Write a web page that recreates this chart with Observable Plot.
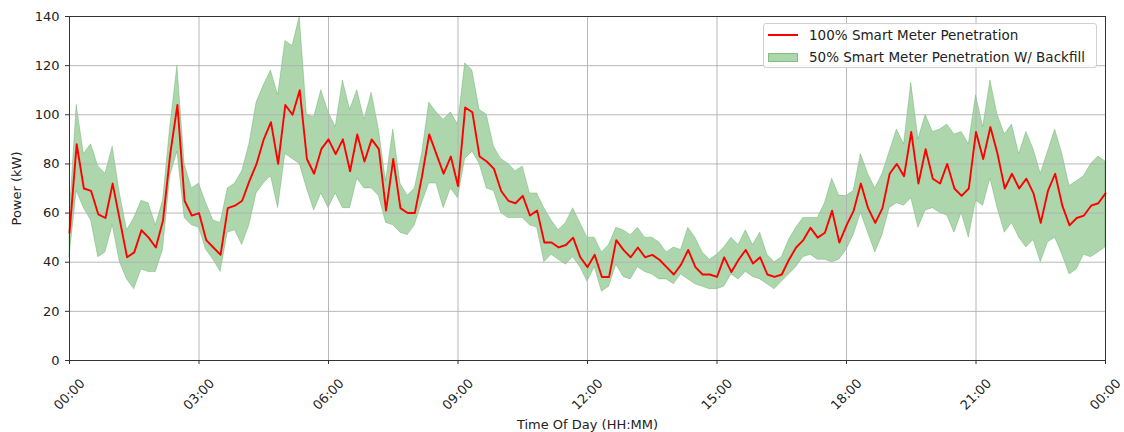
<!DOCTYPE html>
<html>
<head>
<meta charset="utf-8">
<script src="https://cdn.jsdelivr.net/npm/d3@7"></script>
<script src="https://cdn.jsdelivr.net/npm/@observablehq/plot@0.6"></script>
<style>
  html, body { margin: 0; padding: 0; background: #fff; }
  #wrap { position: relative; width: 1124px; height: 432px; font-family: "DejaVu Sans", sans-serif; }
  #legend {
    position: absolute; left: 763px; top: 23px; width: 334px; height: 45px;
    background: rgba(255,255,255,0.85); border: 1px solid #d0d0d0; border-radius: 3px;
    font-size: 13.5px; color: #222; box-sizing: border-box;
  }
  .row { position: absolute; left: 0; height: 20px; display: flex; align-items: center; }
  .sw { width: 30px; margin-left: 4px; margin-right: 11px; }
</style>
</head>
<body>
<div id="wrap">
  <div id="chart"></div>
  <div id="legend">
    <div class="row" style="top:1px"><div class="sw" style="height:2px;background:#ff0000"></div><span>100% Smart Meter Penetration</span></div>
    <div class="row" style="top:23px"><div class="sw" style="height:9px;background:rgba(0,128,0,0.32);border:1px solid rgba(0,128,0,0.25);box-sizing:border-box"></div><span>50% Smart Meter Penetration W/ Backfill</span></div>
  </div>
</div>
<script>
// time of day in minutes (10-minute resolution)
const minutes = [
  0,10,20,30,40,50,60,70,80,90,100,110,120,130,140,150,160,170,180,
  190,200,210,220,230,240,250,260,270,280,290,300,310,320,330,340,350,360,
  370,380,390,400,410,420,430,440,450,460,470,480,490,500,510,520,530,540,
  550,560,570,580,590,600,610,620,630,640,650,660,670,680,690,700,710,720,
  730,740,750,760,770,780,790,800,810,820,830,840,850,860,870,880,890,900,
  910,920,930,940,950,960,970,980,990,1000,1010,1020,1030,1040,1050,1060,1070,1080,
  1090,1100,1110,1120,1130,1140,1150,1160,1170,1180,1190,1200,1210,1220,1230,1240,1250,1260,
  1270,1280,1290,1300,1310,1320,1330,1340,1350,1360,1370,1380,1390,1400,1410,1420,1430,1440
];
// 100% smart meter penetration (kW)
const fullPenetration = [
  52,88,70,69,59.5,58,72,57,42,44,53,50,46,57,84,104,65,59,60,
  49,46,43,62,63,65,73,80,90,97,80,104,100,110,82,76,86,90,
  84,90,77,92,81,90,86,61,82,62,60,60,75,92,84,76,83,71,
  103,101,83,81,78,69,65,64,67,59,61,48,48,46,47,50,42,38,
  43,34,34,49,45,42,46,42,43,41,38,35,39,45,38,35,35,34,
  42,36,41,45,39.5,42,35,34,35,41,46,49,54,50,52,61,48,55,
  61,72,62,56,62,76,80,75,93,72,86,74,72,80,70,67,70,93,
  82,95,84,70,76,70,74,68,56,69,76,63,55,58,59,63,64,68
];
// 50% penetration w/ backfill: upper bound (kW)
const backfillHigh = [
  58,104,84,88,79,76,87,68,53,58,65,64,55,65,95,120,80,70,72,
  64,57,56,70,72,77,88,105,112,118,108,130,128,140,100,99,110,101,
  95,114,102,110,98,109,94,73,94,72,67,70,84,105,101,98,101,96,
  121,118,102,100,87,82,80,77,79,68,68,62,57,53,56,62,56,50,
  50,44,47,54,53,51,54,50,50,48,44,46,45,54,50,44,41,43,
  46,50,47,53,47,52,43,40,42,49,54,58,58,58,64,74,67,67,
  69,84,76,70,76,85,94,88,113,90,100,93,94,96,92,93,88,108,
  95,114,100,92,96,84,93,86,76,85,94,84,71,73,75,80,83,81
];
// 50% penetration w/ backfill: lower bound (kW)
const backfillLow = [
  42,69,62,57,42,44,55,40,33,29,37,36,36,45,75,85,58,55,54,
  45,41,36,52,53,47,55,68,72,75,62,84,82,80,70,61,68,62,
  68,62,62,74,70,70,67,56,55,52,51,55,64,72,72,62,70,66,
  82,85,80,70,69,60,58,58,58,55,54,40,43,41,39,42,38,32,
  38,28,30,39,34,33,38,36,35,33,33,31,35,33,31,30,29,29,
  30,35,33,36,34,33,31,29,32,35,38,42,43,41,41,40,41,45,
  51,60,52,44,51,62,64,63,66,54,61,62,60,59,52,60,50,65,
  63,74,62,52,56,50,46,49,40,48,50,43,35,37,43,42,44,46
];
const xTicks = [0, 3, 6, 9, 12, 15, 18, 21, 24];
const xTickLabels = ["00:00","03:00","06:00","09:00","12:00","15:00","18:00","21:00","00:00"];
const yTicks = [0, 20, 40, 60, 80, 100, 120, 140];

const data = minutes.map((m, i) => ({
  t: m / 60, red: fullPenetration[i], low: backfillLow[i], high: backfillHigh[i]
}));
const fmtX = d => xTickLabels[xTicks.indexOf(d)];

const chart = Plot.plot({
  width: 1124,
  height: 432,
  marginLeft: 69,
  marginRight: 19,
  marginTop: 16,
  marginBottom: 72,
  style: { fontFamily: "DejaVu Sans", fontSize: "13px", color: "#222", background: "transparent" },
  x: { domain: [0, 24] },
  y: { domain: [0, 140] },
  marks: [
    Plot.areaY(data, { x: "t", y1: "low", y2: "high", fill: "green", fillOpacity: 0.32, stroke: "green", strokeOpacity: 0.22, strokeWidth: 1 }),
    Plot.gridX(xTicks, { stroke: "#b0b0b0", strokeOpacity: 1, strokeWidth: 0.9 }),
    Plot.gridY(yTicks, { stroke: "#b0b0b0", strokeOpacity: 1, strokeWidth: 0.9 }),
    Plot.line(data, { x: "t", y: "red", stroke: "#ff0000", strokeWidth: 1.9 }),
    Plot.frame({ stroke: "#333", strokeWidth: 1 }),
    Plot.axisX(xTicks, {
      tickSize: 4, tickRotate: -45, textAnchor: "middle", lineAnchor: "middle", tickPadding: 30,
      tickFormat: fmtX, stroke: "#333",
      label: "Time Of Day (HH:MM)", labelAnchor: "center", labelOffset: 68, labelArrow: "none"
    }),
    Plot.axisY(yTicks, {
      tickSize: 4, tickPadding: 6, stroke: "#333",
      label: "Power (kW)", labelAnchor: "center", labelOffset: 58, labelArrow: "none"
    })
  ]
});
document.getElementById("chart").appendChild(chart);
</script>
</body>
</html>
